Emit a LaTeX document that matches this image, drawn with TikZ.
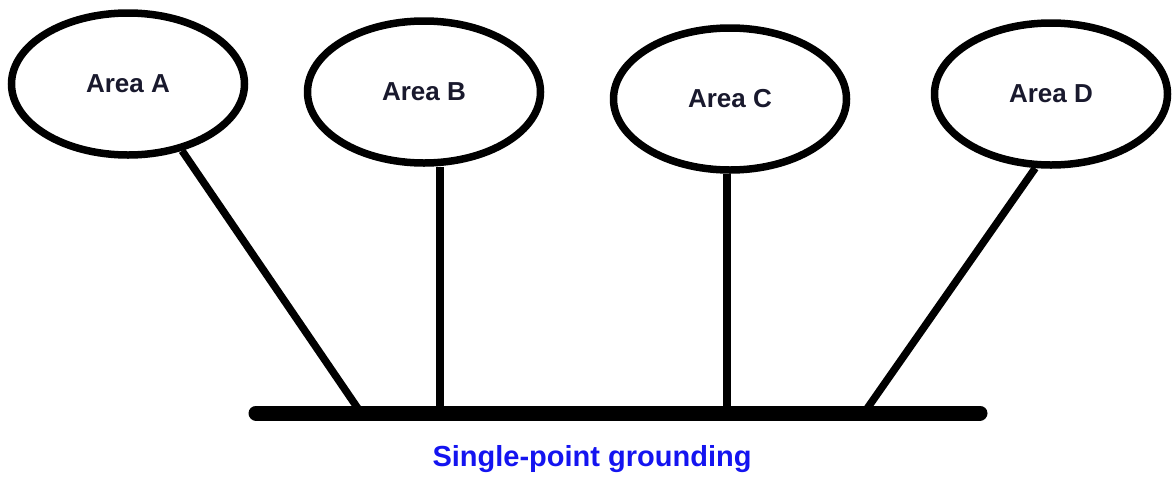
\documentclass[tikz,border=0pt]{standalone}
\usepackage{fontspec}
\setmainfont{Liberation Sans}
\usepackage{xcolor}
\usetikzlibrary{shapes.geometric}

\definecolor{areatext}{RGB}{25,25,45}
\definecolor{gndblue}{RGB}{20,20,240}

\tikzset{
  area/.style={ellipse, draw, line width=7.5pt, minimum width=233pt, minimum height=142pt,
    inner sep=0pt, text=areatext, font=\fontsize{26}{31}\selectfont\bfseries},
  wire/.style={line width=7.5pt},
  busbar/.style={line width=15pt, line cap=round}
}

\begin{document}
\begin{tikzpicture}[x=1pt, y=-1pt]

\useasboundingbox (0,0) rectangle (1172,477);

\node[area] (A) at (128,84) {Area A};
\node[area] (B) at (424,92) {Area B};
\node[area] (C) at (730,99) {Area C};
\node[area] (D) at (1051,94) {Area D};

% ground bar and where the wires meet it
\coordinate (left) at (256,413);
\coordinate (right) at (980,413);
\coordinate (ga) at (361,413);
\coordinate (gb) at (440,413);
\coordinate (gc) at (727,413);
\coordinate (gd) at (864,413);

\draw[busbar] (left) -- (right);

\draw[wire] (A.-51) -- (ga);
\draw[wire] (B.south -| gb) -- (gb);
\draw[wire] (C.south -| gc) -- (gc);
\draw[wire] (D.258) -- (gd);

\node[text=gndblue, font=\fontsize{29}{35}\selectfont\bfseries] (label) at (592,459) {Single-point grounding};

\end{tikzpicture}
\end{document}
